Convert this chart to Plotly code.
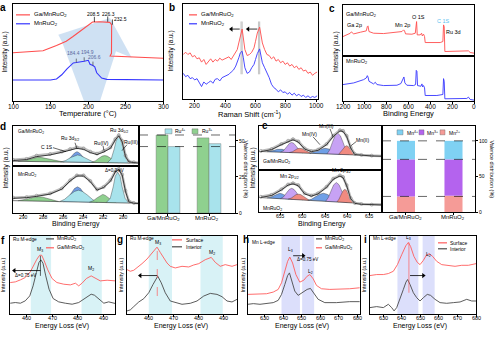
import plotly.graph_objects as go

# ===================== DATA =====================
# (a) temperature-programmed profiles
a_temp_red = [100, 125, 140, 158, 171, 180, 190, 200, 206, 215, 226, 229, 231.5, 231.3, 229.5, 240, 270, 300]
a_int_red = [147, 150, 153, 169, 182, 196, 214, 232, 240, 241, 241, 239, 232, 145, 137, 136, 133, 130]
a_temp_blue = [100, 150, 158, 165, 172, 180.4, 184.4, 190, 194.9, 200.4, 202.7, 206.6, 209, 211.6, 215, 218.2, 225, 300]
a_int_blue = [64, 64, 67, 80, 98, 116, 117, 118, 121, 124, 112, 108, 104, 86, 76, 70, 66, 64]
a_peaks_red = [208.5, 226.3, 232.5]
a_peaks_red_int = [240, 241, 232]
a_peaks_blue = [184.4, 194.9, 206.6]
a_peaks_blue_int = [117, 121, 108]
a_ticks = [100, 150, 200, 250, 300]

# (b) Raman
b_shift = [125, 140, 155, 170, 185, 200, 215, 230, 245, 260, 275, 290, 305, 320, 335, 350, 365, 380, 395, 410,
           425, 440, 455, 470, 480, 490, 500, 512, 520, 530, 545, 560, 575, 590, 600, 612, 627, 635, 645, 660,
           675, 690, 705, 720, 735, 750, 765, 780, 795, 810, 825, 840, 855, 870, 885, 900, 915, 930, 945, 960,
           975, 990, 1005]
b_red = [135, 142, 135, 140, 128, 132, 122, 125, 112, 120, 105, 115, 122, 112, 120, 115, 124, 118, 122, 125,
         128, 120, 132, 140, 150, 170, 190, 212, 185, 150, 132, 135, 142, 155, 175, 200, 218, 200, 170, 150,
         135, 132, 122, 128, 115, 120, 110, 115, 105, 110, 100, 105, 95, 100, 90, 95, 85, 88, 78, 82,
         72, 78, 82]
b_blue = [78, 68, 72, 62, 65, 58, 62, 50, 38, 52, 45, 50, 55, 48, 60, 62, 55, 65, 68, 72,
          75, 82, 88, 100, 110, 125, 140, 145, 125, 95, 78, 82, 95, 105, 120, 138, 152, 130, 110, 95,
          82, 65, 45, 35, 30, 22, 28, 20, 22, 15, 20, 12, 18, 10, 15, 8, 12, 5, 10, 4,
          8, 5, 10]
b_peak_red = [512, 627]
b_peak_blue = [505, 620]
b_ticks = [200, 400, 600, 800, 1000]

# (c) XPS survey
c_be_red = [1200, 1133, 1124, 1115, 1102, 1041, 987, 977, 971, 962, 920, 828, 706, 660, 645, 636, 627, 569, 538, 532,
            526, 520, 493, 480, 474, 462, 453, 447, 401, 310, 285, 279, 273, 267, 157, 51, 35, 0]
c_int_red = [60, 70, 74, 70, 68, 73, 77, 90, 92, 75, 70, 69, 72, 75, 80, 77, 68, 67, 70, 105,
             105, 65, 65, 70, 62, 67, 60, 42, 42, 42, 45, 95, 90, 15, 15, 17, 12, 10]
c_be_blue = [1200, 1102, 1011, 987, 977, 971, 962, 920, 904, 889, 828, 706, 670, 651, 642, 633, 615, 554, 535, 529,
             523, 517, 486, 477, 471, 462, 453, 447, 340, 285, 279, 273, 267, 66, 51, 35, 0]
c_int_blue = [50, 55, 65, 70, 77, 73, 60, 52, 57, 50, 47, 48, 53, 65, 73, 55, 48, 47, 50, 93,
              90, 47, 45, 52, 43, 47, 40, 17, 17, 20, 68, 60, 7, 8, 12, 5, 3]
c_ticks = [1200, 1000, 800, 600, 400, 200, 0]

# (d) Ru 3d XPS
d_bg_be = [291.1, 278.4]
d_bg_top = [13, 7]
d_bg_bot = [38, 30]
d_raw_be = [291.08, 289.73, 288.72, 287.36, 286.18, 285.34, 284.66, 283.99, 283.31, 282.63,
            281.96, 281.28, 280.78, 280.44, 280.10, 279.76, 279.42, 278.92, 278.31]
d_raw_top = [17, 20, 30, 35, 42, 50, 55, 52, 42, 36, 44, 55, 80, 92, 75, 30, 12, 10, 8]
d_fit_top = [15, 18, 27, 32, 40, 47, 52, 49, 39, 33, 41, 52, 78, 90, 72, 27, 11, 9, 7]
d_raw_bot = [47, 49, 53, 60, 75, 100, 115, 115, 98, 72, 80, 100, 128, 135, 118, 68, 36, 31, 30]
d_fit_bot = [45, 47, 51, 58, 73, 98, 113, 113, 96, 70, 78, 97, 126, 133, 116, 66, 34, 30, 29]
d_top_c1s_be = [290.6, 290.0, 289.5, 289.0, 288.6, 288.2, 287.7, 287.2, 286.6, 286.0]
d_top_c1s = [12.8, 14.5, 18, 22, 25, 24, 21, 17, 13.5, 10.7]
d_top_b1_be = [286.0, 285.6, 285.2, 284.9, 284.65, 284.4, 284.1, 283.7, 283.3]
d_top_b1 = [10.6, 15, 28, 38, 42, 38, 28, 15, 9.5]
d_top_b2_be = [286.3, 285.8, 285.3, 284.9, 284.6, 284.3, 283.9, 283.4, 282.9]
d_top_b2 = [10.7, 15, 24, 30, 32, 30, 24, 15, 9.2]
d_top_g2_be = [283.2, 282.8, 282.4, 282.1, 281.85, 281.6, 281.3, 280.9, 280.5]
d_top_g2 = [9.3, 14, 23, 28.5, 30, 28.5, 23, 14, 8.2]
d_top_m_be = [281.6, 281.2, 280.9, 280.7, 280.45, 280.2, 280.0, 279.7, 279.3]
d_top_m = [8.5, 20, 50, 76, 87, 76, 50, 20, 7.6]
d_bot_c1s_be = [290.6, 290.0, 289.5, 289.0, 288.55, 288.1, 287.6, 287.1, 286.5]
d_bot_c1s = [37.7, 40, 44, 48.5, 50, 48.5, 44, 39, 35.2]
d_bot_b1_be = [286.0, 285.6, 285.2, 284.9, 284.6, 284.3, 284.0, 283.6, 283.2]
d_bot_b1 = [34.9, 45, 62, 75, 80, 75, 62, 45, 33.4]
d_bot_b2_be = [286.4, 285.9, 285.4, 284.9, 284.5, 284.1, 283.6, 283.1, 282.6]
d_bot_b2 = [35.1, 42, 55, 66, 70, 66, 55, 42, 32.7]
d_bot_g2_be = [283.4, 283.0, 282.6, 282.3, 282.05, 281.8, 281.5, 281.1, 280.7]
d_bot_g2 = [33.2, 38, 47, 54, 57, 54, 47, 38, 31.6]
d_bot_m_be = [281.7, 281.3, 281.0, 280.8, 280.55, 280.3, 280.1, 279.8, 279.4]
d_bot_m = [32.2, 45, 80, 112, 125, 112, 80, 45, 30.7]
d_ticks = [290, 288, 286, 284, 282, 280]

# (d) valence bars
samples = ["Ga/MnRuO<sub>2</sub>", "MnRuO<sub>2</sub>"]
ru3 = [54, 52]
ru4 = [46, 48]

# (e) Mn 2p XPS
e_bg_be = [659.8, 632.3]
e_bg_top = [57.6, 44]
e_bg_bot = [45, 23]
e_raw_be = [659.4, 657.0, 654.8, 653.3, 652.2, 651.0, 649.6, 648.1, 646.6, 644.7,
            643.2, 641.7, 641.0, 640.2, 639.3, 638.4, 636.9, 634.6, 632.2]
e_raw_top = [59, 65, 80, 90, 95, 88, 67, 59, 63, 80, 105, 122, 120, 105, 70, 50, 47, 45, 44]
e_fit_top = [57, 63, 78, 88, 93, 86, 65, 57, 61, 78, 103, 120, 118, 103, 68, 48, 46, 44, 43]
e_raw_bot = [47, 53, 70, 85, 89, 83, 58, 51, 58, 78, 103, 113, 108, 83, 43, 28, 25, 23, 23]
e_fit_bot = [45, 51, 68, 83, 87, 81, 56, 49, 56, 76, 101, 111, 106, 81, 41, 27, 24, 22, 22]
e_top_b1_be = [658.0, 657.2, 656.4, 655.7, 655.15, 654.6, 653.9, 653.1, 652.3]
e_top_b1 = [56.9, 58, 61, 64, 65, 64, 61, 57.5, 54.1]
e_top_p1_be = [655.0, 654.3, 653.6, 653.0, 652.5, 652.0, 651.4, 650.7, 650.0]
e_top_p1 = [55.4, 60, 72, 82, 85, 82, 72, 60, 53]
e_top_r1_be = [653.0, 652.3, 651.7, 651.2, 650.7, 650.2, 649.6, 648.9, 648.2]
e_top_r1 = [54.4, 57, 62, 66, 67, 66, 62, 56, 52]
e_top_b2_be = [648.5, 647.6, 646.7, 645.8, 645.0, 644.2, 643.3, 642.4, 641.5]
e_top_b2 = [52.2, 55, 60, 65, 67, 65, 60, 54, 48.6]
e_top_p2_be = [644.6, 644.0, 643.4, 642.8, 642.2, 641.6, 641.0, 640.4, 639.8]
e_top_p2 = [50.2, 62, 85, 105, 113, 105, 85, 62, 47.8]
e_top_r2_be = [642.0, 641.5, 641.0, 640.6, 640.2, 639.8, 639.4, 638.9, 638.3]
e_top_r2 = [49, 56, 65, 72, 75, 72, 65, 56, 47]
e_bot_b1_be = [658.0, 657.2, 656.4, 655.7, 655.15, 654.6, 653.9, 653.1, 652.3]
e_bot_b1 = [43.6, 46, 51, 56, 58, 56, 51, 44, 39.1]
e_bot_p1_be = [655.0, 654.3, 653.6, 653.0, 652.5, 652.0, 651.4, 650.7, 650.0]
e_bot_p1 = [41.4, 47, 60, 70, 73, 70, 60, 46, 37]
e_bot_r1_be = [653.3, 652.6, 652.0, 651.5, 651.0, 650.5, 649.9, 649.2, 648.5]
e_bot_r1 = [40, 43, 49, 54, 55, 54, 49, 42, 36]
e_bot_b2_be = [648.9, 648.0, 647.1, 646.2, 645.4, 644.6, 643.7, 642.8, 641.9]
e_bot_b2 = [36.4, 40, 48, 55, 58, 55, 48, 38, 30.8]
e_bot_p2_be = [644.9, 644.3, 643.7, 643.1, 642.5, 641.9, 641.3, 640.7, 640.1]
e_bot_p2 = [33.2, 45, 65, 84, 91, 84, 65, 45, 29.3]
e_bot_r2_be = [642.4, 641.9, 641.4, 641.0, 640.6, 640.2, 639.8, 639.3, 638.7]
e_bot_r2 = [31, 40, 55, 66, 70, 66, 55, 40, 28]
e_ticks = [660, 655, 650, 645, 640, 635]

# (e) valence bars
mn2 = [22, 23]
mn3 = [52, 51]
mn4 = [26, 26]

# (f) Ru M-edge EELS
f_bands = [(461.5, 469.5), (481.5, 489.5)]
f_e_red = [453.4, 455.4, 457.4, 459.3, 461.3, 462.6, 463.9, 465.0, 465.8, 466.8, 468.2, 469.9, 471.8, 474.5,
           477.1, 479.1, 480.4, 481.7, 483.4, 485.3, 487.0, 488.9, 491.6, 494.9]
f_i_red = [95, 97, 103, 110, 127, 147, 165, 177, 177, 160, 133, 107, 95, 90, 88, 93, 85, 93, 107, 115, 107, 100, 102, 100]
f_e_gray = [453.4, 455.4, 457.4, 459.3, 461.1, 462.4, 463.7, 464.7, 465.5, 466.3, 467.4, 468.7, 470.3, 472.5,
            475.1, 477.8, 480.4, 482.4, 483.9, 485.3, 486.6, 488.3, 490.3, 492.2, 494.9]
f_i_gray = [33, 35, 33, 40, 55, 85, 125, 155, 163, 153, 115, 75, 47, 37, 33, 30, 35, 45, 55, 60, 57, 45, 33, 37, 32]
f_peak = 465.3
f_shift_to = 455.0
fg_ticks = [460, 470, 480, 490]

# (g) Ru M-edge surface / interior
g_bands = [(460.3, 469.6), (481.0, 489.9)]
g_e_red = [451.6, 452.9, 454.3, 455.6, 457.6, 459.6, 461.6, 463.6, 464.9, 466.3, 467.6, 468.9, 470.9, 473.6,
           476.3, 478.3, 480.3, 482.9, 485.3, 486.9, 488.9, 490.9, 493.6, 495.6]
g_i_red = [135, 130, 133, 140, 153, 167, 185, 203, 187, 170, 155, 145, 140, 145, 143, 149, 153, 165, 172, 157, 145, 150, 145, 150]
g_e_gray = [451.6, 452.9, 454.3, 456.3, 458.3, 460.3, 462.0, 463.9, 465.3, 466.9, 468.9, 470.9, 473.6, 476.9,
            479.6, 482.3, 484.9, 487.6, 489.6, 491.6, 493.6, 495.6]
g_i_gray = [10, 13, 23, 37, 47, 65, 90, 115, 95, 65, 40, 35, 30, 33, 40, 55, 63, 60, 53, 40, 37, 45]
g_peak = 463.7
g_shift_to = 456.9

# (h) Mn L-edge
h_bands = [(639.0, 649.0), (650.2, 656.7)]
h_e_red = [620.8, 623.7, 627.3, 630.9, 634.5, 637.2, 639.0, 640.8, 642.3, 643.5, 645.0, 646.8, 648.9, 651.1,
           652.9, 654.4, 656.2, 658.0, 660.7, 665.2, 670.6, 676.0, 681.4]
h_i_red = [60, 60, 62, 62, 67, 75, 95, 130, 160, 173, 155, 120, 97, 103, 115, 120, 107, 87, 77, 75, 75, 77, 80]
h_e_gray = [620.8, 623.7, 627.3, 630.9, 634.5, 637.2, 639.0, 640.8, 642.3, 643.3, 644.4, 646.2, 648.0, 650.4,
            652.9, 654.7, 656.5, 658.9, 662.5, 668.8, 676.0, 681.4]
h_i_gray = [30, 32, 30, 33, 35, 42, 60, 90, 117, 125, 105, 70, 57, 65, 75, 78, 65, 45, 35, 35, 38, 38]
h_shift = (645.3, 650.8)
h_ticks = [620, 630, 640, 650, 660, 670, 680]

# (i) Mn L-edge surface / interior
i_bands = [(637.6, 648.9), (651.2, 657.7)]
i_e_red = [622.8, 626.4, 630.0, 632.7, 635.4, 637.6, 639.9, 642.1, 643.5, 644.7, 646.5, 648.3, 649.8, 651.6,
           653.4, 654.8, 656.6, 658.8, 661.5, 665.1, 668.7, 672.3, 675.9, 680.0]
i_i_red = [117, 120, 120, 123, 130, 150, 180, 207, 217, 205, 175, 157, 150, 163, 180, 183, 175, 160, 150, 147, 145, 148, 148, 153]
i_e_gray = [622.8, 626.4, 630.0, 632.7, 634.5, 635.8, 637.2, 639.0, 640.8, 642.2, 643.1, 644.4, 646.2, 648.0,
            649.8, 651.6, 653.7, 655.5, 657.9, 660.6, 664.2, 667.8, 671.4, 675.0, 677.7, 680.0]
i_i_gray = [20, 23, 20, 30, 20, 10, 20, 45, 75, 97, 105, 90, 65, 50, 40, 50, 60, 57, 45, 35, 33, 35, 37, 45, 40, 40]
i_peak = 643.8
i_shift = (644.4, 651.6)
i_ticks = [630, 640, 650, 660, 670, 680]

# ===================== STYLE / LAYOUT =====================
W, H = 500, 340
FONT = "Liberation Sans, Arial, sans-serif"
RED = "#ff4d4d"
BLUE = "#3535ff"
EG = "#4a4a4a"
ER = "#ff5c5c"

fig = go.Figure()
lay = dict(width=W, height=H, margin=dict(l=0, r=0, t=0, b=0), paper_bgcolor="white",
           plot_bgcolor="white", showlegend=False, barmode="overlay",
           font=dict(family=FONT, color="black"))
ann = []
shp = []


def X(p):
    return p / W


def Y(p):
    return 1 - p / H


def axes(n, xd, yd, xr, yr, xtv=None, ytv=None, yside="left", yfs=5.5):
    s = "" if n == 1 else str(n)
    xa, ya = "x" + s, "y" + s
    lay["xaxis" + s] = dict(domain=[X(xd[0]), X(xd[1])], range=list(xr), anchor=ya,
                            showline=True, mirror=True, linecolor="black", linewidth=0.8,
                            showgrid=False, zeroline=False,
                            ticks="outside" if xtv is not None else "", ticklen=2, tickwidth=0.6,
                            tickcolor="black", tickvals=xtv, showticklabels=False, fixedrange=True)
    lay["yaxis" + s] = dict(domain=[Y(yd[1]), Y(yd[0])], range=list(yr), anchor=xa, side=yside,
                            showline=True, mirror=True, linecolor="black", linewidth=0.8,
                            showgrid=False, zeroline=False,
                            ticks="outside" if ytv is not None else "", ticklen=2, tickwidth=0.6,
                            tickcolor="black", tickvals=ytv, showticklabels=ytv is not None,
                            tickfont=dict(size=yfs, family=FONT, color="black"), fixedrange=True)
    return xa, ya


def xlabels(xa, vals, ypx, size, texts=None):
    texts = texts if texts is not None else [str(v) for v in vals]
    for v, t in zip(vals, texts):
        ann.append(dict(x=v, y=Y(ypx), xref=xa, yref="paper", text=t, showarrow=False,
                        font=dict(size=size, color="black", family=FONT), xanchor="center", yanchor="middle"))


def line(xa, ya, x, y, color, width=1.0, dash=None):
    fig.add_trace(go.Scatter(x=x, y=y, xaxis=xa, yaxis=ya, mode="lines",
                             line=dict(color=color, width=width, dash=dash), hoverinfo="skip"))


def arrow(xa, ya, x0, x1, y, width=0.8):
    sym = "triangle-left" if x1 < x0 else "triangle-right"
    fig.add_trace(go.Scatter(x=[x0, x1], y=[y, y], xaxis=xa, yaxis=ya, mode="lines", cliponaxis=False,
                             line=dict(color="black", width=width), hoverinfo="skip"))
    fig.add_trace(go.Scatter(x=[x1], y=[y], xaxis=xa, yaxis=ya, mode="markers", cliponaxis=False,
                             marker=dict(symbol=sym, size=4.5, color="black"), hoverinfo="skip"))


def comp(xa, ya, x, y, color):
    fig.add_trace(go.Scatter(x=x, y=y, xaxis=xa, yaxis=ya, mode="lines", fill="toself",
                             fillcolor=color, line=dict(color="#333333", width=0.4), hoverinfo="skip"))


def raw(xa, ya, x, y):
    fig.add_trace(go.Scatter(x=x, y=y, xaxis=xa, yaxis=ya, mode="lines+markers",
                             line=dict(color="#bdbdbd", width=2.6),
                             marker=dict(symbol="circle-open", size=3, color="#8f8f8f", line=dict(width=0.6)),
                             hoverinfo="skip"))


def txt(x, y, s, size=5.5, color="black", xa="center", ya="middle", angle=0):
    ann.append(dict(x=X(x), y=Y(y), xref="paper", yref="paper", text=s, showarrow=False,
                    font=dict(size=size, color=color, family=FONT), xanchor=xa, yanchor=ya,
                    textangle=angle))


def pline(x0, y0, x1, y1, w=0.6, color="black"):
    shp.append(dict(type="line", xref="paper", yref="paper", x0=X(x0), x1=X(x1), y0=Y(y0), y1=Y(y1),
                    line=dict(color=color, width=w)))


def legbox(x0, x1, y0, y1, color):
    shp.append(dict(type="rect", xref="paper", yref="paper", x0=X(x0), x1=X(x1), y0=Y(y1), y1=Y(y0),
                    fillcolor=color, line=dict(color="#666", width=0.4)))


def bands(xa, ya, bl, color):
    for b0, b1 in bl:
        shp.append(dict(type="rect", xref=xa, yref=ya + " domain", x0=b0, x1=b1, y0=0, y1=1,
                        fillcolor=color, line=dict(width=0), layer="below"))


def letter(x, y, s):
    txt(x, y, "<b>" + s + "</b>", size=10, ya="top")


# ---------------- (a) ----------------
xa, ya = axes(1, (13, 163), (4, 102), (100, 300), (0, 295), xtv=a_ticks)
xlabels(xa, a_ticks, 107, 6.5)
shp.append(dict(type="path", xref=xa, yref=ya, layer="below", line=dict(width=0),
                fillcolor="rgba(160,196,232,0.5)",
                path="M160.4,201.7 L229.3,252 L258.3,131.5 L237.3,151.4 L216,0 L194.7,0 L165.3,180.6 Z"))
line(xa, ya, a_temp_red, a_int_red, RED, 1.1)
line(xa, ya, a_temp_blue, a_int_blue, BLUE, 1.1)
red_lbl_dx = [-1.2, 0.6, 10.5]
red_lbl_dy = [25, 24, 18]
for t, v, dx, dy in zip(a_peaks_red, a_peaks_red_int, red_lbl_dx, red_lbl_dy):
    line(xa, ya, [t, t], [v, v + 16], "black", 0.7)
    ann.append(dict(x=t + dx, y=v + dy, xref=xa, yref=ya, text=str(t), showarrow=False,
                    font=dict(size=5, color="black", family=FONT)))
blue_lbl_dx = [-3.7, 4.4, 2.1]
blue_lbl_dy = [29.6, 27.4, 25.4]
for t, v, dx, dy in zip(a_peaks_blue, a_peaks_blue_int, blue_lbl_dx, blue_lbl_dy):
    line(xa, ya, [t, t], [v, v + 12], "#444", 0.7)
    ann.append(dict(x=t + dx, y=v + dy, xref=xa, yref=ya, text=str(t), showarrow=False,
                    font=dict(size=5, color="#5a6aa0", family=FONT)))
pline(16, 15, 30, 15, 1.2, RED)
txt(32, 15, "Ga/MnRuO<sub>2</sub>", 6, xa="left")
pline(16, 24, 30, 24, 1.2, BLUE)
txt(32, 24, "MnRuO<sub>2</sub>", 6, xa="left")
txt(88, 115, "Temperature (°C)", 7.5)
txt(5, 53, "Intensity (a.u.)", 6.5, angle=-90)
letter(3, 0, "a")

# ---------------- (b) ----------------
xa, ya = axes(2, (183, 318), (4, 100), (123, 1011), (0, 288), xtv=b_ticks)
xlabels(xa, b_ticks, 106, 6.5)
for p in b_peak_red + b_peak_blue:
    line(xa, ya, [p, p], [75, 235], "#c8c8c8", 1.2)
line(xa, ya, b_shift, b_red, RED, 0.9)
line(xa, ya, b_shift, b_blue, BLUE, 0.9)
arrow(xa, ya, b_peak_blue[0] - 9, 441, 212)
arrow(xa, ya, b_peak_blue[1] - 8, 551, 212)
pline(189, 15, 197, 15, 1.2, RED)
txt(199, 15, "Ga/MnRuO<sub>2</sub>", 6, xa="left")
pline(189, 24, 197, 24, 1.2, BLUE)
txt(199, 24, "MnRuO<sub>2</sub>", 6, xa="left")
txt(250, 115, "Raman Shift (cm<sup>-1</sup>)", 7.5)
txt(171, 52, "Intensity (a.u.)", 6.5, angle=-90)
letter(172, 0, "b")

# ---------------- (c) ----------------
xa, ya = axes(3, (343, 474), (5, 57), (1200, 0), (0, 155))
line(xa, ya, c_be_red, c_int_red, RED, 0.9)
xa, ya = axes(4, (343, 474), (57, 102), (1200, 0), (0, 135), xtv=c_ticks)
xlabels(xa, c_ticks, 107, 6.5)
line(xa, ya, c_be_blue, c_int_blue, BLUE, 0.9)
txt(344, 15, "Ga/MnRuO<sub>2</sub>", 5.5, xa="left")
txt(345, 25, "Ga 2p", 5.5, xa="left")
txt(402, 25, "Mn 2p", 5.5)
txt(418, 17, "O 1S", 5.5)
txt(443, 21, "C 1S", 5.5, color="#5bbff0")
txt(453, 32, "Ru 3d", 5.5)
txt(344, 62, "MnRuO<sub>2</sub>", 5.5, xa="left")
txt(408, 115, "Binding Energy", 7.5)
txt(336, 53, "Intensity (a.u.)", 6.5, angle=-90)
letter(332, 1, "c")

# ---------------- (d) XPS ----------------
GREEN = "#8fd08f"
LBLUE = "#a8e3ec"
DBLUE = "#729de6"
xa, ya = axes(5, (13, 139), (127, 167), (291.1, 278.4), (0, 120))
comp(xa, ya, d_top_c1s_be, d_top_c1s, GREEN)
comp(xa, ya, d_top_b1_be, d_top_b1, DBLUE)
comp(xa, ya, d_top_b2_be, d_top_b2, LBLUE)
comp(xa, ya, d_top_g2_be, d_top_g2, GREEN)
comp(xa, ya, d_top_m_be, d_top_m, LBLUE)
line(xa, ya, d_bg_be, d_bg_top, "#222", 0.6)
raw(xa, ya, d_raw_be, d_raw_top)
line(xa, ya, d_raw_be, d_fit_top, "black", 0.7)
xa, ya = axes(6, (13, 139), (167, 215), (291.1, 278.4), (0, 145), xtv=d_ticks)
xlabels(xa, d_ticks, 219, 5)
comp(xa, ya, d_bot_c1s_be, d_bot_c1s, GREEN)
comp(xa, ya, d_bot_b1_be, d_bot_b1, DBLUE)
comp(xa, ya, d_bot_b2_be, d_bot_b2, LBLUE)
comp(xa, ya, d_bot_g2_be, d_bot_g2, GREEN)
comp(xa, ya, d_bot_m_be, d_bot_m, LBLUE)
line(xa, ya, d_bg_be, d_bg_bot, "#222", 0.6)
raw(xa, ya, d_raw_be, d_raw_bot)
line(xa, ya, d_raw_be, d_fit_bot, "black", 0.7)
txt(16, 133, "Ga/MnRuO<sub>2</sub>", 4.8, xa="left")
txt(47, 148, "C 1S", 5)
pline(53, 149, 66, 153)
txt(70, 140, "Ru 3d<sub>3/2</sub>", 5)
pline(75, 144, 77, 150)
txt(101, 144, "Ru(IV)", 5)
pline(103, 147, 104, 152)
txt(119, 132, "Ru 3d<sub>5/2</sub>", 5)
txt(131, 143, "Ru(III)", 5)
pline(127, 146, 122, 152)
txt(16, 177, "MnRuO<sub>2</sub>", 4.8, xa="left")
txt(114, 172, "Δ=0.2 eV", 4.5)
txt(76, 226, "Binding Energy", 7)
txt(5, 170, "Intensity (a.u.)", 6.5, angle=-90)
letter(3, 120, "d")

# ---------------- (d) bars ----------------
xa, ya = axes(7, (139, 235), (127, 215), (-0.707, 1.634), (0, 60.3), xtv=[0, 1],
              ytv=[0, 25, 50], yside="right", yfs=5)
xlabels(xa, [-0.1, 0.95], 220, 6, samples)
fig.add_trace(go.Bar(x=[0, 1], y=ru3, xaxis=xa, yaxis=ya, width=0.29, offset=-0.29,
                     marker=dict(color=GREEN, line=dict(color="#6a6a6a", width=0.4)), hoverinfo="skip"))
fig.add_trace(go.Bar(x=[0, 1], y=ru4, xaxis=xa, yaxis=ya, width=0.29, offset=0.0,
                     marker=dict(color=LBLUE, line=dict(color="#6a6a6a", width=0.4)), hoverinfo="skip"))
for v in (ru3[0], ru4[0]):
    shp.append(dict(type="line", xref=xa + " domain", yref=ya, x0=0, x1=1, y0=v, y1=v,
                    line=dict(color="black", width=0.6, dash="dash")))
legbox(165, 172, 130, 135, LBLUE)
txt(173, 132, "Ru<sup>4+</sup>", 5, xa="left")
legbox(192, 198, 130, 135, GREEN)
txt(200, 132, "Ru<sup>3+</sup>", 5, xa="left")
txt(246, 171, "Valence distribution (%)", 5.5, angle=90)

# ---------------- (e) XPS ----------------
EB = "#6f9fe6"
EP = "#c7a2f4"
ER2 = "#f08a80"
xa, ya = axes(8, (259, 382), (127, 172), (659.8, 632.3), (0, 135))
comp(xa, ya, e_top_b1_be, e_top_b1, EB)
comp(xa, ya, e_top_p1_be, e_top_p1, EP)
comp(xa, ya, e_top_r1_be, e_top_r1, ER2)
comp(xa, ya, e_top_b2_be, e_top_b2, EB)
comp(xa, ya, e_top_p2_be, e_top_p2, EP)
comp(xa, ya, e_top_r2_be, e_top_r2, ER2)
line(xa, ya, e_bg_be, e_bg_top, "#222", 0.6)
raw(xa, ya, e_raw_be, e_raw_top)
line(xa, ya, e_raw_be, e_fit_top, "black", 0.7)
xa, ya = axes(9, (259, 382), (172, 214), (659.8, 632.3), (0, 128), xtv=e_ticks)
xlabels(xa, e_ticks, 218, 5)
comp(xa, ya, e_bot_b1_be, e_bot_b1, EB)
comp(xa, ya, e_bot_p1_be, e_bot_p1, EP)
comp(xa, ya, e_bot_r1_be, e_bot_r1, ER2)
comp(xa, ya, e_bot_b2_be, e_bot_b2, EB)
comp(xa, ya, e_bot_p2_be, e_bot_p2, EP)
comp(xa, ya, e_bot_r2_be, e_bot_r2, ER2)
line(xa, ya, e_bg_be, e_bg_bot, "#222", 0.6)
raw(xa, ya, e_raw_be, e_raw_bot)
line(xa, ya, e_raw_be, e_fit_bot, "black", 0.7)
txt(309, 135, "Mn(IV)", 5)
pline(313, 138, 320, 146)
txt(326, 127, "Mn(III)", 5)
pline(330, 130, 333, 138)
txt(362, 141, "Mn(II)", 5)
pline(356, 143, 351, 147)
txt(261, 163, "Ga/MnRuO<sub>2</sub>", 5, xa="left")
txt(289, 178, "Mn 2p<sub>1/2</sub>", 5)
txt(341, 172, "Mn 2p<sub>3/2</sub>", 5)
txt(261, 210, "MnRuO<sub>2</sub>", 5, xa="left")
txt(322, 226, "Binding Energy", 7)
txt(252, 170, "Intensity (a.u.)", 6.5, angle=-90)
letter(265, 119, "e")

# ---------------- (e) bars ----------------
xa, ya = axes(10, (382, 475), (127, 214), (-0.505, 1.453), (0, 121), xtv=[0, 1],
              ytv=[0, 50, 100], yside="right", yfs=5)
xlabels(xa, [0, 1], 219, 6, samples)
MN4 = "#7fd1f3"
MN3 = "#b463ee"
MN2 = "#f59b97"
base3 = list(mn2)
base4 = [a + b for a, b in zip(mn2, mn3)]
fig.add_trace(go.Bar(x=[0, 1], y=mn2, xaxis=xa, yaxis=ya, width=0.38, marker=dict(color=MN2, line=dict(width=0)),
                     hoverinfo="skip"))
fig.add_trace(go.Bar(x=[0, 1], y=mn3, base=base3, xaxis=xa, yaxis=ya, width=0.38,
                     marker=dict(color=MN3, line=dict(width=0)), hoverinfo="skip"))
fig.add_trace(go.Bar(x=[0, 1], y=mn4, base=base4, xaxis=xa, yaxis=ya, width=0.38,
                     marker=dict(color=MN4, line=dict(width=0)), hoverinfo="skip"))
for v in (mn2[0], base4[0], base4[0] + mn4[0]):
    shp.append(dict(type="line", xref=xa + " domain", yref=ya, x0=0, x1=1, y0=v, y1=v,
                    line=dict(color="black", width=0.6, dash="dash")))
legbox(397, 403, 131, 136, MN4)
txt(405, 134, "Mn<sup>4+</sup>", 5, xa="left")
legbox(419, 424, 131, 136, MN3)
txt(425, 134, "Mn<sup>3+</sup>", 5, xa="left")
legbox(440, 445, 131, 136, MN2)
txt(447, 134, "Mn<sup>2+</sup>", 5, xa="left")
txt(492, 171, "Valence distribution (%)", 5.5, angle=90)

# ---------------- (f) ----------------
xa, ya = axes(11, (10, 115), (238, 317), (453.3, 494.7), (0, 235), xtv=fg_ticks)
xlabels(xa, fg_ticks, 321, 5.5)
bands(xa, ya, f_bands, "rgba(200,236,242,0.7)")
line(xa, ya, f_e_gray, f_i_gray, EG, 0.9)
line(xa, ya, f_e_red, f_i_red, ER, 0.9)
line(xa, ya, [f_peak, f_peak], [115, 175], "black", 0.6)
arrow(xa, ya, f_peak, f_shift_to, 131)
txt(11, 242, "Ru M-edge", 4.8, xa="left")
txt(40, 252, "M<sub>3</sub>", 5)
txt(91, 271, "M<sub>2</sub>", 5)
txt(25, 278, "Δ=0.75 eV", 4.5)
pline(46, 241, 54, 241, 1.2, EG)
txt(55, 241, "MnRuO<sub>2</sub>", 5, xa="left")
pline(46, 250, 54, 250, 1.2, ER)
txt(55, 250, "Ga/MnRuO<sub>2</sub>", 5, xa="left")
txt(62, 329, "Energy Loss (eV)", 7)
txt(3, 278, "Intensity (a.u.)", 5.5, angle=-90)
letter(3, 235, "f")

# ---------------- (g) ----------------
xa, ya = axes(12, (127, 237), (238, 317), (451.6, 495.6), (0, 237), xtv=fg_ticks)
xlabels(xa, fg_ticks, 321, 5.5)
bands(xa, ya, g_bands, "rgba(200,236,242,0.7)")
line(xa, ya, g_e_red, g_i_red, ER, 0.9)
line(xa, ya, g_e_gray, g_i_gray, EG, 0.9)
line(xa, ya, [g_peak, g_peak], [55, 205], ER, 0.7, dash="dash")
arrow(xa, ya, g_peak, g_shift_to, 117)
txt(128, 241, "Ru M-edge", 4.8, xa="left")
txt(158, 245, "M<sub>3</sub>", 5)
txt(212, 255, "M<sub>2</sub>", 5)
pline(172, 242, 182, 242, 1.2, ER)
txt(184, 242, "Surface", 5, xa="left")
pline(172, 249, 182, 249, 1.2, EG)
txt(184, 249, "Interior", 5, xa="left")
txt(181, 329, "Energy Loss (eV)", 7)
txt(121, 278, "Intensity (a.u.)", 5.5, angle=-90)
letter(120, 234, "g")

# ---------------- (h) ----------------
xa, ya = axes(13, (248, 360), (238, 317), (620.8, 681.6), (0, 237), xtv=h_ticks)
xlabels(xa, h_ticks, 321, 5.5)
bands(xa, ya, h_bands, "rgba(208,212,250,0.75)")
line(xa, ya, h_e_gray, h_i_gray, EG, 0.9)
line(xa, ya, h_e_red, h_i_red, ER, 0.9)
arrow(xa, ya, h_shift[0], h_shift[1], 177)
txt(250, 245, "Mn L-edge", 4.8, xa="left")
txt(290, 252, "L<sub>3</sub>", 5)
txt(310, 274, "L<sub>2</sub>", 5)
txt(307, 262, "Δ=0.75 eV", 4.5)
pline(316, 241, 322, 241, 1.2, EG)
txt(323, 241, "MnRuO<sub>2</sub>", 5, xa="left")
pline(316, 250, 322, 250, 1.2, ER)
txt(323, 250, "Ga/MnRuO<sub>2</sub>", 5, xa="left")
txt(302, 329, "Energy Loss (eV)", 7)
txt(243, 278, "Intensity (a.u.)", 5.5, angle=-90)
letter(246, 234, "h")

# ---------------- (i) ----------------
xa, ya = axes(14, (370, 476), (238, 317), (622.8, 680), (0, 237), xtv=i_ticks)
xlabels(xa, i_ticks, 321, 5.5)
bands(xa, ya, i_bands, "rgba(208,212,250,0.75)")
line(xa, ya, i_e_red, i_i_red, ER, 0.9)
line(xa, ya, i_e_gray, i_i_gray, EG, 0.9)
line(xa, ya, [i_peak, i_peak], [65, 217], ER, 0.7)
arrow(xa, ya, i_shift[0], i_shift[1], 117)
txt(371, 241, "Mn L-edge", 4.8, xa="left")
txt(408, 240, "L<sub>3</sub>", 5)
txt(428, 257, "L<sub>2</sub>", 5)
pline(438, 245, 447, 245, 1.2, ER)
txt(448, 245, "Surface", 5, xa="left")
pline(438, 251, 447, 251, 1.2, EG)
txt(448, 251, "Interior", 5, xa="left")
txt(420, 329, "Energy Loss (eV)", 7)
txt(364, 278, "Intensity (a.u.)", 5.5, angle=-90)
letter(365, 234, "i")

lay["annotations"] = ann
lay["shapes"] = shp
fig.update_layout(**lay)
fig.write_html("out.html", config={"displayModeBar": False})
